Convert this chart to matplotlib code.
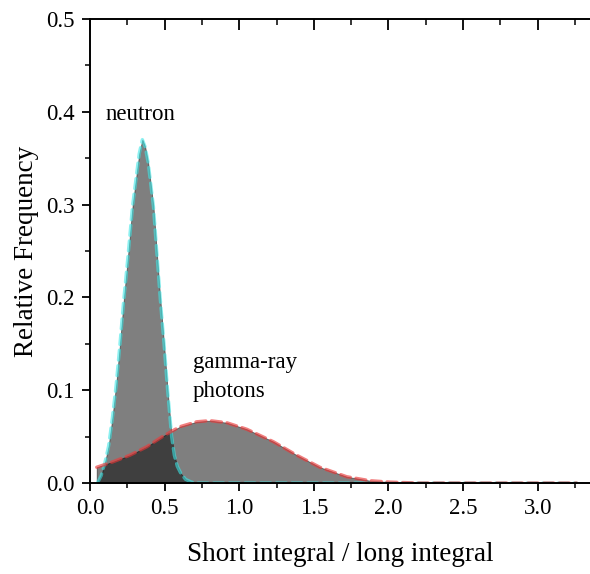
import numpy as np
import matplotlib
matplotlib.use("Agg")
import matplotlib.pyplot as plt
from matplotlib.ticker import MultipleLocator

plt.rcParams['font.family'] = ['Liberation Serif', 'DejaVu Serif']

# =============================================================================
# Dados (razão curta/longa x frequência relativa)
# =============================================================================
neutron_x = [0.05, 0.075, 0.10, 0.125, 0.15, 0.175, 0.20, 0.225, 0.255, 0.285,
             0.31, 0.33, 0.351, 0.37, 0.39, 0.41, 0.425, 0.447, 0.47, 0.496,
             0.52, 0.547, 0.565, 0.585, 0.61, 0.64, 0.68, 0.72, 1.0, 2.0, 3.26]
neutron_y = [0.000, 0.008, 0.022, 0.040, 0.070, 0.105, 0.148, 0.195, 0.245, 0.298,
             0.330, 0.355, 0.370, 0.362, 0.345, 0.318, 0.298, 0.250, 0.200, 0.150,
             0.100, 0.050, 0.030, 0.018, 0.010, 0.004, 0.001, 0.000, 0.0, 0.0, 0.0]

gamma_x = [0.045, 0.156, 0.268, 0.38, 0.491, 0.603, 0.715, 0.804, 0.916, 1.05,
           1.229, 1.385, 1.54, 1.72, 1.876, 2.01, 2.2, 2.6, 3.0, 3.26]
gamma_y = [0.017, 0.023, 0.030, 0.039, 0.0506, 0.0607, 0.066, 0.0672, 0.065, 0.058,
           0.0445, 0.030, 0.017, 0.0068, 0.0025, 0.001, 0.0, 0.0, 0.0, 0.0]

xticks = [0.0, 0.5, 1.0, 1.5, 2.0, 2.5, 3.0]
yticks = [0.0, 0.1, 0.2, 0.3, 0.4, 0.5]

# =============================================================================
# Figura
# =============================================================================
fig = plt.figure(figsize=(5.9, 5.74), dpi=100)
ax = fig.add_axes([0.1525, 0.1585, 0.8475, 0.8085])

ax.fill_between(neutron_x, neutron_y, 0, color='black', alpha=0.5, lw=0.6)
ax.fill_between(gamma_x, gamma_y, 0, color='black', alpha=0.5, lw=0.6)

ax.plot(neutron_x, neutron_y, color='#3ee6e6', alpha=0.6, lw=2.4,
        linestyle=(0, (3, 1.7)), dash_capstyle='round')
ax.plot(gamma_x, gamma_y, color='#ea3a3a', alpha=0.65, lw=2.4,
        linestyle=(0, (3, 1.7)), dash_capstyle='round')

ax.text(0.107, 0.391, 'neutron', fontsize=16.5)
ax.text(0.688, 0.124, 'gamma-ray', fontsize=16.5)
ax.text(0.688, 0.093, 'photons', fontsize=16.5)

ax.set_xlim(0, 3.35)
ax.set_ylim(0, 0.5)
ax.set_xticks(xticks)
ax.set_yticks(yticks)
ax.set_xticklabels([f'{v:.1f}' for v in xticks])
ax.set_yticklabels([f'{v:.1f}' for v in yticks])
ax.xaxis.set_minor_locator(MultipleLocator(0.25))
ax.yaxis.set_minor_locator(MultipleLocator(0.05))

ax.spines['right'].set_visible(False)
ax.spines['top'].set_visible(False)
for s in ['left', 'bottom']:
    ax.spines[s].set_linewidth(1.4)

ax.tick_params(axis='both', which='major', labelsize=16.5, length=6, width=1.3,
               direction='out', pad=5)
ax.tick_params(axis='both', which='minor', length=3.5, width=1.1, direction='out')

# eixo superior com marcas para dentro
topo = ax.secondary_xaxis('top')
topo.spines['top'].set_linewidth(1.4)
topo.set_xticks(xticks)
topo.xaxis.set_minor_locator(MultipleLocator(0.25))
topo.tick_params(which='major', direction='in', length=8, width=1.3, labeltop=False)
topo.tick_params(which='minor', direction='in', length=4, width=1.1)

ax.set_xlabel('Short integral / long integral', fontsize=19.5, labelpad=16)
ax.set_ylabel('Relative Frequency', fontsize=19.5, labelpad=5)

fig.savefig('out.png', dpi=100)
